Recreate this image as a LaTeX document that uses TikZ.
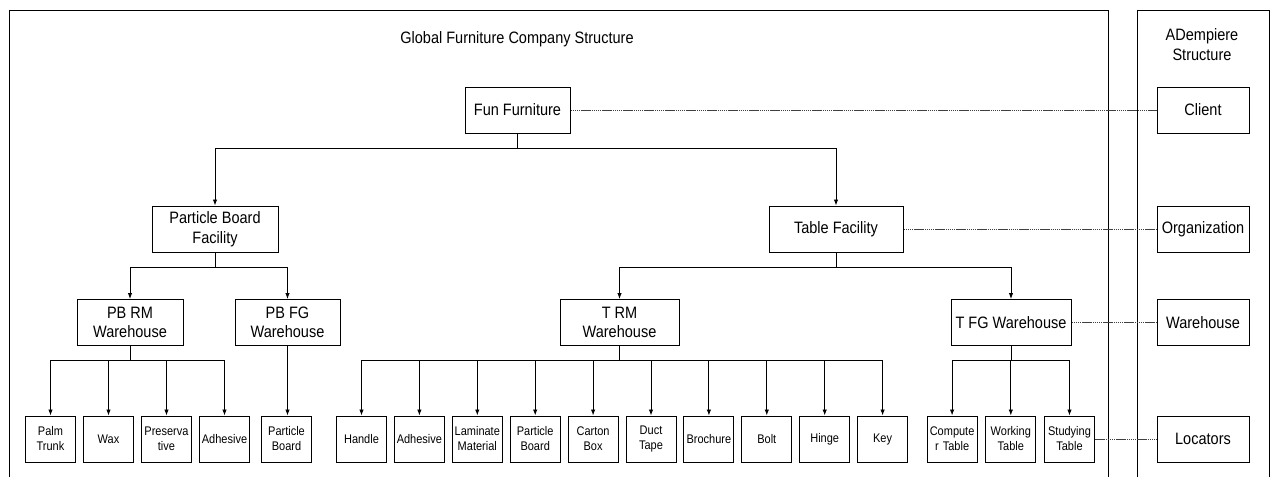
\documentclass[tikz,border=0pt]{standalone}
\usepackage{fontspec}
\setmainfont{Liberation Sans}[FakeStretch=0.88]
\usepackage{tikz}
\usetikzlibrary{positioning,arrows.meta}

\begin{document}
\begin{tikzpicture}
[
x=1pt, y=-1pt,
box-a/.style={draw, line width=1pt, minimum height=46pt, inner sep=2pt, align=center, font=\fontsize{16.5}{19.5}\selectfont},
leaf-a/.style={draw, line width=1pt, minimum width=50pt, minimum height=46pt, text width=48pt, inner sep=1pt, align=center, font=\fontsize{12.5}{15}\selectfont},
text-a/.style={align=center, font=\fontsize{16.5}{20.5}\selectfont},
link-a/.style={line width=0.9pt, -{Latex[length=6pt,width=4.5pt]}},
dot-a/.style={line width=0.8pt, black!75, dash pattern=on 1.5pt off 0.6pt},
frame-a/.style={line width=1pt}
]
\useasboundingbox (0,0) rectangle (1272,477);
\draw[frame-a] (9,477) |- (1108,10) -- (1108,477);
\draw[frame-a] (1137,477) |- (1269,10) -- (1269,477);

\node (title)         [text-a                                 ] at (517,39)    {Global Furniture Company Structure};
\node (ad-title)      [text-a                                 ] at (1202,44.5) {ADempiere\\Structure};
\node (fun-furniture) [box-a, minimum width=105pt             ] at (517.5,110) {Fun Furniture};
\node (pb-facility)   [box-a, minimum width=126pt             ] at (215,229)   {Particle Board\\Facility};
\node (t-facility)    [box-a, minimum width=134pt             ] at (836,229)   {Table Facility};
\node (pb-rm)         [box-a, minimum width=106pt             ] at (130,322.5) {PB RM\\Warehouse};
\node (pb-fg)         [box-a, minimum width=105pt             ] at (287.5,322.5) {PB FG\\Warehouse};
\node (t-rm)          [box-a, minimum width=119pt             ] at (619.5,322.5) {T RM\\Warehouse};
\node (t-fg)          [box-a, minimum width=120pt             ] at (1011,322.5) {T FG Warehouse};

\node (client)        [box-a, minimum width=92pt              ] at (1203,110)  {Client};
\node (organization)  [box-a, minimum width=92pt              ] at (1203,229)  {Organization};
\node (warehouse)     [box-a, minimum width=92pt              ] at (1203,322.5) {Warehouse};
\node (locators)      [box-a, minimum width=92pt              ] at (1203,439)  {Locators};

\node (palm-trunk)    [leaf-a                                 ] at (50.5,439)  {Palm\\Trunk};
\node (wax)           [leaf-a, right =  7pt of palm-trunk     ] {Wax};
\node (preservative)  [leaf-a, right =  7pt of wax            ] {Preserva\\tive};
\node (adhesive-1)    [leaf-a, right =  7pt of preservative   ] {Adhesive};
\node (board-1)       [leaf-a, right = 11pt of adhesive-1     ] {Particle\\Board};
\node (handle)        [leaf-a, right = 24pt of board-1        ] {Handle};
\node (adhesive-2)    [leaf-a, right = 6.9pt of handle        ] {Adhesive};
\node (laminate)      [leaf-a, right = 6.9pt of adhesive-2    ] {Laminate\\Material};
\node (board-2)       [leaf-a, right = 6.9pt of laminate      ] {Particle\\Board};
\node (carton)        [leaf-a, right = 6.9pt of board-2       ] {Carton\\Box};
\node (tape)          [leaf-a, right = 6.9pt of carton        ] {Duct\\Tape};
\node (brochure)      [leaf-a, right = 6.9pt of tape          ] {Brochure};
\node (bolt)          [leaf-a, right = 6.9pt of brochure      ] {Bolt};
\node (hinge)         [leaf-a, right = 6.9pt of bolt          ] {Hinge};
\node (key)           [leaf-a, right = 6.9pt of hinge         ] {Key};
\node (computer)      [leaf-a, right = 18.5pt of key          ] {Compute\\r Table};
\node (working)       [leaf-a, right = 7.7pt of computer      ] {Working\\Table};
\node (studying)      [leaf-a, right = 7.7pt of working       ] {Studying\\Table};

\draw[link-a] (fun-furniture.south) -- ++(0,15) -| (pb-facility.north);
\draw[link-a] (fun-furniture.south) -- ++(0,15) -| (t-facility.north);
\draw[link-a] (pb-facility.south)   -- ++(0,15) -| (pb-rm.north);
\draw[link-a] (pb-facility.south)   -- ++(0,15) -| (pb-fg.north);
\draw[link-a] (t-facility.south)    -- ++(0,15) -| (t-rm.north);
\draw[link-a] (t-facility.south)    -- ++(0,15) -| (t-fg.north);

\draw[link-a] (pb-rm.south) -- ++(0,14) -| (palm-trunk.north);
\draw[link-a] (pb-rm.south) -- ++(0,14) -| (wax.north);
\draw[link-a] (pb-rm.south) -- ++(0,14) -| (preservative.north);
\draw[link-a] (pb-rm.south) -- ++(0,14) -| (adhesive-1.north);
\draw[link-a] (pb-fg.south) -- (pb-fg.south |- board-1.north);

\draw[link-a] (t-rm.south) -- ++(0,14) -| (handle.north);
\draw[link-a] (t-rm.south) -- ++(0,14) -| (adhesive-2.north);
\draw[link-a] (t-rm.south) -- ++(0,14) -| (laminate.north);
\draw[link-a] (t-rm.south) -- ++(0,14) -| (board-2.north);
\draw[link-a] (t-rm.south) -- ++(0,14) -| (carton.north);
\draw[link-a] (t-rm.south) -- ++(0,14) -| (tape.north);
\draw[link-a] (t-rm.south) -- ++(0,14) -| (brochure.north);
\draw[link-a] (t-rm.south) -- ++(0,14) -| (bolt.north);
\draw[link-a] (t-rm.south) -- ++(0,14) -| (hinge.north);
\draw[link-a] (t-rm.south) -- ++(0,14) -| (key.north);

\draw[link-a] (t-fg.south) -- ++(0,14) -| (computer.north);
\draw[link-a] (t-fg.south) -- ++(0,14) -| (working.north);
\draw[link-a] (t-fg.south) -- ++(0,14) -| (studying.north);

\draw[dot-a] (fun-furniture.east) -- (client.west);
\draw[dot-a] (t-facility.east)    -- (organization.west);
\draw[dot-a] (t-fg.east)          -- (warehouse.west);
\draw[dot-a] (studying.east)      -- (locators.west);
\end{tikzpicture}
\end{document}
